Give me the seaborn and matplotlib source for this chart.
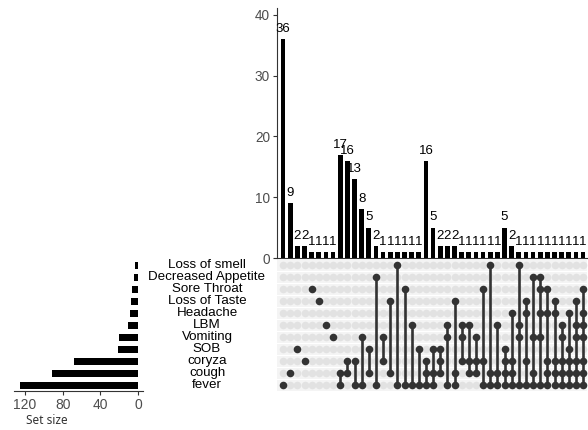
import numpy as np
import pandas as pd
import seaborn as sns
import matplotlib
import matplotlib.pyplot as plt
from matplotlib.transforms import blended_transform_factory

sns.set_style('white')
matplotlib.rcParams['font.family'] = ['Liberation Sans', 'DejaVu Sans']

# symptom sets, top row first
sets = ["Loss of smell", "Decreased Appetite", "Sore Throat", "Loss of Taste",
        "Headache", "LBM", "Vomiting", "SOB", "coryza", "cough", "fever"]

# intersections (members of each column) and their sizes
combos = [
    ["fever"], ["cough"], ["SOB"], ["coryza"], ["Sore Throat"], ["Loss of Taste"],
    ["LBM"], ["Vomiting"],
    ["cough", "fever"], ["coryza", "cough"], ["coryza", "fever"], ["Vomiting", "fever"],
    ["SOB", "cough"], ["Decreased Appetite", "fever"], ["Vomiting", "coryza"],
    ["Loss of Taste", "cough"], ["Loss of smell", "fever"], ["Sore Throat", "fever"],
    ["LBM", "fever"], ["SOB", "fever"],
    ["coryza", "cough", "fever"], ["SOB", "cough", "fever"], ["SOB", "coryza", "cough"],
    ["LBM", "Vomiting", "fever"], ["Loss of Taste", "cough", "fever"],
    ["LBM", "Vomiting", "coryza"], ["LBM", "coryza", "cough"],
    ["Vomiting", "coryza", "cough"], ["Sore Throat", "coryza", "fever"],
    ["Loss of smell", "cough", "fever"], ["LBM", "cough", "fever"],
    ["SOB", "coryza", "cough", "fever"], ["Headache", "coryza", "cough", "fever"],
    ["Loss of smell", "LBM", "Vomiting", "fever"],
    ["Loss of Taste", "Headache", "coryza", "fever"],
    ["Decreased Appetite", "Vomiting", "cough", "fever"],
    ["Decreased Appetite", "Sore Throat", "Headache", "Vomiting", "fever"],
    ["Sore Throat", "Headache", "coryza", "cough", "fever"],
    ["Loss of Taste", "Headache", "coryza", "cough", "fever"],
    ["LBM", "Vomiting", "coryza", "cough", "fever"],
    ["Headache", "SOB", "coryza", "cough", "fever"],
    ["Loss of Taste", "LBM", "Vomiting", "coryza", "cough", "fever"],
    ["Sore Throat", "Headache", "LBM", "Vomiting", "coryza", "cough", "fever"],
]
counts = [36, 9, 2, 2, 1, 1, 1, 1,
          17, 16, 13, 8, 5, 2, 1, 1, 1, 1, 1, 1,
          16, 5, 2, 2, 2, 1, 1, 1, 1, 1, 1,
          5, 2, 1, 1, 1, 1, 1, 1, 1, 1, 1, 1]

set_sizes = [sum(c for m, c in zip(combos, counts) if s in m) for s in sets]

W, H = 588, 430
fig = plt.figure(figsize=(W / 100, H / 100), dpi=100)


def box(l, t, r, b):
    return [l / W, 1 - b / H, (r - l) / W, (b - t) / H]


ax_bar = fig.add_axes(box(277, 8, 587, 258))
ax_mat = fig.add_axes(box(277, 259.3, 587, 391.3))
ax_set = fig.add_axes(box(14, 259.3, 143, 391.3))

tick_col = '#4d4d4d'
axis_col = '#333333'

# intersection size bars
n = len(counts)
bars = pd.DataFrame({'col': np.arange(n), 'count': counts})
sns.barplot(data=bars, x='col', y='count', color='black', width=0.65,
            saturation=1, linewidth=0, ax=ax_bar)
for i, c in enumerate(counts):
    ax_bar.annotate(str(c), (i, c), xytext=(0, 3), textcoords='offset points',
                    ha='center', va='bottom', fontsize=9.5, color='black')
ax_bar.set_xlim(-0.85, n - 0.45)
ax_bar.set_ylim(0, 41.15)
ax_bar.set_yticks([0, 10, 20, 30, 40])
ax_bar.set_xticks([])
ax_bar.set_xlabel('')
ax_bar.set_ylabel('')
for s in ['top', 'right']:
    ax_bar.spines[s].set_visible(False)
for s in ['left', 'bottom']:
    ax_bar.spines[s].set_color(axis_col)
    ax_bar.spines[s].set_linewidth(0.8)
ax_bar.tick_params(axis='y', length=3, width=0.8, color=axis_col,
                   labelcolor=tick_col, labelsize=9.8, pad=2, left=True)

# matrix
rows = []
for i, members in enumerate(combos):
    for j, s in enumerate(sets):
        rows.append({'col': i, 'row': j, 'on': s in members})
mat = pd.DataFrame(rows)
for j in range(len(sets)):
    ax_mat.axhspan(j - 0.46, j + 0.46, color='#f4f4f4', zorder=0, lw=0)
sns.scatterplot(data=mat[~mat.on], x='col', y='row', color='#e2e2e2', s=30,
                linewidth=0, ax=ax_mat, zorder=1)
on = mat[mat.on]
span = on.groupby('col')['row'].agg(['min', 'max']).reset_index()
ax_mat.vlines(span['col'], span['min'], span['max'], color=axis_col, lw=1.9, zorder=2)
sns.scatterplot(data=on, x='col', y='row', color=axis_col, s=30,
                linewidth=0, ax=ax_mat, zorder=3)
ax_mat.set_xlim(-0.85, n - 0.45)
ax_mat.set_ylim(len(sets) - 0.5, -0.5)
ax_mat.axis('off')

# set size bars
sizes = pd.DataFrame({'set': sets, 'size': set_sizes})
sns.barplot(data=sizes, x='size', y='set', orient='h', color='black', width=0.55,
            saturation=1, linewidth=0, ax=ax_set)
ax_set.set_ylim(len(sets) - 0.5, -0.5)
ax_set.set_xlim(131.7, -5.3)
ax_set.set_xticks([120, 80, 40, 0])
ax_set.set_yticks([])
ax_set.set_xlabel('')
ax_set.set_ylabel('')
for s in ['top', 'right', 'left']:
    ax_set.spines[s].set_visible(False)
ax_set.spines['bottom'].set_color(axis_col)
ax_set.spines['bottom'].set_linewidth(0.8)
ax_set.tick_params(axis='x', length=3, width=0.8, color=axis_col,
                   labelcolor=tick_col, labelsize=10, pad=2, bottom=True)

trans = blended_transform_factory(ax_set.transAxes, ax_set.transData)
for j, s in enumerate(sets):
    ax_set.text((207 - 14) / 129, j, s, transform=trans, ha='center', va='center',
                fontsize=9.6, color='black')

fig.text(47 / W, 1 - 421 / H, 'Set size', ha='center', va='center',
         fontsize=8.5, color='#333333', family=['Noto Sans', 'DejaVu Sans'])

fig.savefig('out.png', dpi=100)
